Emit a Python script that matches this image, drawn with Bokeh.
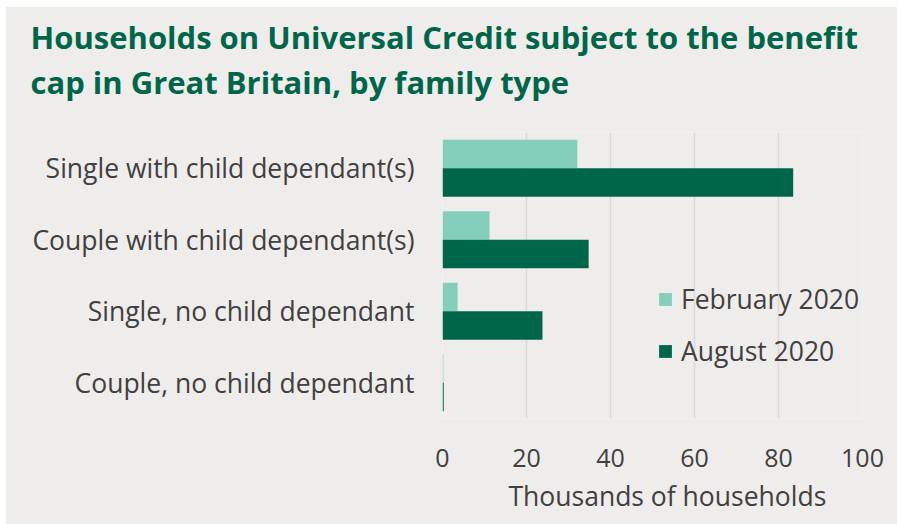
from bokeh.plotting import figure
from bokeh.models import FactorRange, Legend, LegendItem, FixedTicker, Title
from bokeh.transform import dodge
from bokeh.embed import file_html
from bokeh.resources import INLINE

categories = ["Single with child dependant(s)", "Couple with child dependant(s)",
              "Single, no child dependant", "Couple, no child dependant"]
feb_2020 = [32.1, 11.2, 3.6, 0.2]
aug_2020 = [83.5, 34.8, 23.8, 0.3]
x_ticks = [0, 20, 40, 60, 80, 100]
series_names = ["February 2020", "August 2020"]
title_lines = ["Households on Universal Credit subject to the benefit",
               "cap in Great Britain, by family type"]
x_title = "Thousands of households"

BG = "#EFEDEB"
FEB_C = "#84CEBC"
AUG_C = "#00664A"
TXT = "#404040"
TITLE_C = "#00664A"
FONT = "Open Sans"

p = figure(width=892, height=518, y_range=FactorRange(factors=categories[::-1], range_padding=0),
           x_range=(0, 100), output_backend="svg", toolbar_location=None,
           min_border_left=437, min_border_right=35, min_border_top=126, min_border_bottom=106,
           background_fill_color=BG, border_fill_color=BG, outline_line_color=None)
p.margin = (6, 0, 0, 5)

src = dict(cat=categories, feb=feb_2020, aug=aug_2020)
r_feb = p.hbar(y=dodge("cat", 0.2, range=p.y_range), right="feb", left=0, height=0.4,
               source=src, fill_color=FEB_C, line_color=None)
r_aug = p.hbar(y=dodge("cat", -0.2, range=p.y_range), right="aug", left=0, height=0.4,
               source=src, fill_color=AUG_C, line_color=None)

p.xaxis.ticker = FixedTicker(ticks=x_ticks)
p.xaxis.axis_line_color = None
p.xaxis.major_tick_line_color = None
p.xaxis.minor_tick_line_color = None
p.xaxis.major_label_text_font = FONT
p.xaxis.major_label_text_font_size = "25px"
p.xaxis.major_label_text_color = TXT
p.xaxis.major_label_standoff = 24

p.yaxis.axis_line_color = None
p.yaxis.major_tick_line_color = None
p.yaxis.minor_tick_line_color = None
p.yaxis.major_label_text_font = FONT
p.yaxis.major_label_text_font_size = "26.5px"
p.yaxis.major_label_text_color = TXT
p.yaxis.major_label_standoff = 22

p.xgrid.grid_line_color = "#D9D9D9"
p.xgrid.grid_line_width = 1.5
p.ygrid.grid_line_color = None

legend = Legend(items=[LegendItem(label=series_names[0], renderers=[r_feb]),
                       LegendItem(label=series_names[1], renderers=[r_aug])],
                location=(215, 49), orientation="vertical",
                glyph_width=16, glyph_height=16, label_standoff=8,
                label_text_font=FONT, label_text_font_size="26.5px", label_text_color=TXT,
                label_height=30, spacing=16, padding=0, margin=0,
                background_fill_alpha=0, border_line_color=None)
p.add_layout(legend)

# x-axis title as a below panel so it can be nudged right
p.add_layout(Title(text=x_title, text_font=FONT, text_font_style="normal",
                   text_font_size="26.5px", text_color=TXT, align="left",
                   offset=66, standoff=12), "below")

# chart title: outer line in p.title, inner line + spacer added above
p.title.text = title_lines[0]
p.title.text_font = FONT
p.title.text_font_style = "bold"
p.title.text_font_size = "31px"
p.title.text_color = TITLE_C
p.title.align = "left"
p.title.offset = -412
p.title.standoff = 1
p.add_layout(Title(text=" ", text_font_size="1px", standoff=26), "above")
p.add_layout(Title(text=title_lines[1], text_font=FONT, text_font_style="bold",
                   text_font_size="31px", text_color=TITLE_C, align="left",
                   offset=-412, standoff=1), "above")

open("out.html", "w").write(file_html(p, INLINE))
